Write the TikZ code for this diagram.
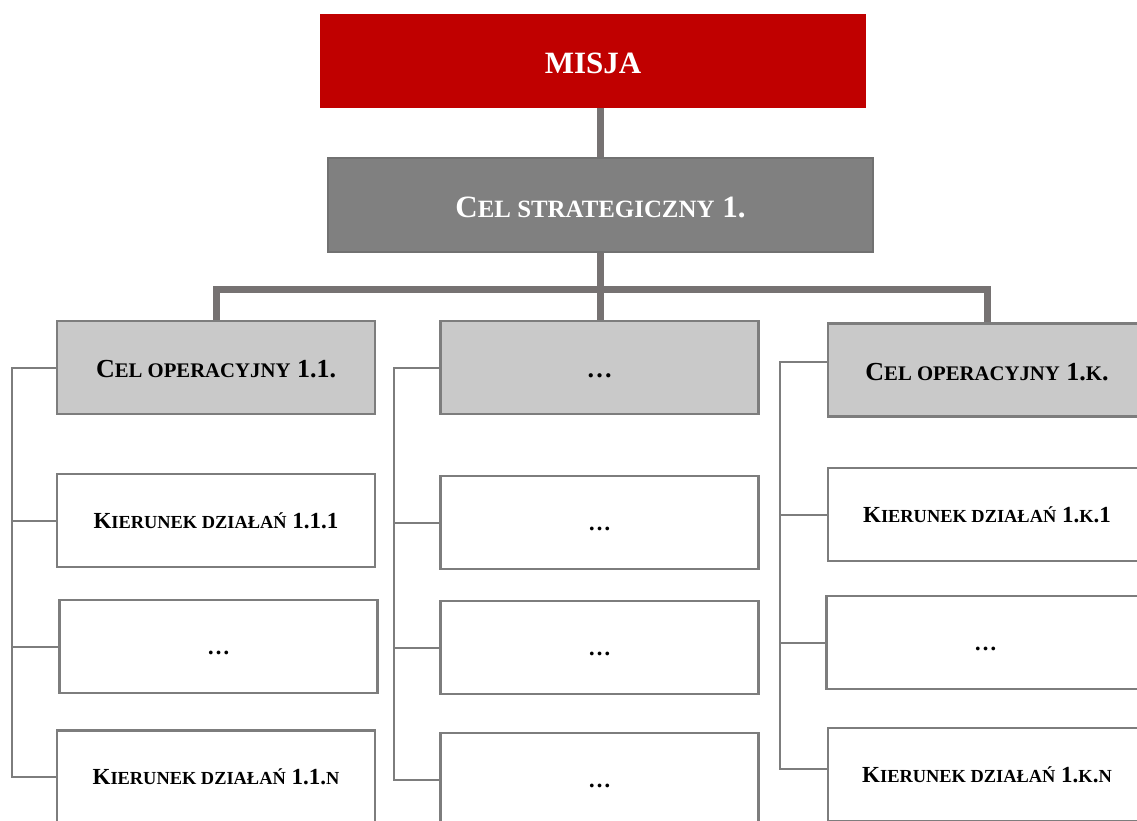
\documentclass[tikz,border=0pt]{standalone}
\usepackage{fontspec}
\setmainfont{Liberation Serif}
\usepackage{relsize}
\usetikzlibrary{positioning}

\definecolor{misjared}{RGB}{192,0,0}
\definecolor{stratgray}{RGB}{128,128,128}
\definecolor{opgray}{RGB}{201,201,201}
\definecolor{linegray}{RGB}{118,114,114}
\definecolor{boxgray}{RGB}{125,125,125}

% fake small caps
\newcommand{\kap}[1]{{\relscale{0.8}#1}}

\begin{document}
\begin{tikzpicture}[x=1pt,y=-1pt,
  misjabox/.style={fill=misjared,text=white,minimum width=546pt,minimum height=94pt,
    inner sep=0pt,text height=25.5pt,text depth=0pt,font=\bfseries\fontsize{31}{36}\selectfont},
  stratbox/.style={fill=stratgray,draw=boxgray!90!black,line width=2pt,text=white,
    minimum width=545pt,minimum height=94pt,inner sep=0pt,text height=25.5pt,text depth=0pt,
    font=\bfseries\fontsize{31}{36}\selectfont},
  opbox/.style={fill=opgray,draw=boxgray,line width=2.5pt,minimum width=318pt,
    minimum height=93pt,inner sep=0pt,text height=20.2pt,text depth=0pt,
    font=\bfseries\fontsize{26}{30}\selectfont},
  kbox/.style={fill=white,draw=boxgray,line width=2.5pt,minimum width=318pt,
    minimum height=93pt,inner sep=0pt,text height=15.5pt,text depth=0pt,
    font=\bfseries\fontsize{23}{27}\selectfont},
  bar/.style={draw=linegray,line width=7pt},
  rail/.style={draw=boxgray,line width=2pt}]
  \useasboundingbox (0,0) rectangle (1137,821);
  \clip (0,0) rectangle (1137,821);

  % top levels
  \node[misjabox] (misja) at (593,61) {MISJA};
  \node[stratbox] (strat) at (600.5,205) {C\kap{EL STRATEGICZNY} 1.};

  % operational goals
  \node[opbox] (op1) at (216,367.5) {C\kap{EL OPERACYJNY} 1.1.};
  \node[opbox] (op2) at (599.5,367.5) {\dots};
  \node[opbox] (opk) at (987,370) {C\kap{EL OPERACYJNY} 1.\kap{K}.};

  % directions of action
  \node[kbox] (k11) at (216,520.5) {K\kap{IERUNEK DZIAŁAŃ} 1.1.1};
  \node[kbox] (k12) at (218.5,646.5) {\dots};
  \node[kbox] (k1n) at (216,777) {K\kap{IERUNEK DZIAŁAŃ} 1.1.\kap{N}};

  \node[kbox] (k21) at (599.5,522.5) {\dots};
  \node[kbox] (k22) at (599.5,647.5) {\dots};
  \node[kbox] (k2n) at (599.5,779.5) {\dots};

  \node[kbox] (kk1) at (987,514.5) {K\kap{IERUNEK DZIAŁAŃ} 1.\kap{K}.1};
  \node[kbox] (kk2) at (985.5,642.5) {\dots};
  \node[kbox] (kkn) at (987,774.5) {K\kap{IERUNEK DZIAŁAŃ} 1.\kap{K}.\kap{N}};

  % thick connectors
  \draw[bar] (strat.north) -- (strat.north |- misja.south);
  \draw[bar] (strat.south) -- ++(0,36) coordinate (fork);
  \draw[bar] (op1.north) |- (fork) -| (opk.north);
  \draw[bar] (fork) -- (fork |- op2.north);

  % thin rails
  \draw[rail] (op1.west) -| ([xshift=-44pt]k1n.west) -- (k1n.west);
  \draw[rail] (k11.west) -- ++(-44,0);
  \draw[rail] (k12.west) -- ++(-46.5,0);

  \draw[rail] (op2.west) -| ([xshift=-45pt]k2n.west) -- (k2n.west);
  \draw[rail] (k21.west) -- ++(-45,0);
  \draw[rail] (k22.west) -- ++(-45,0);

  \draw[rail] ([yshift=8pt]opk.west) -| ([xshift=-47pt,yshift=6pt]kkn.west) -- ([yshift=6pt]kkn.west);
  \draw[rail] (kk1.west) -- ++(-47,0);
  \draw[rail] (kk2.west) -- ++(-44,0);
\end{tikzpicture}
\end{document}
